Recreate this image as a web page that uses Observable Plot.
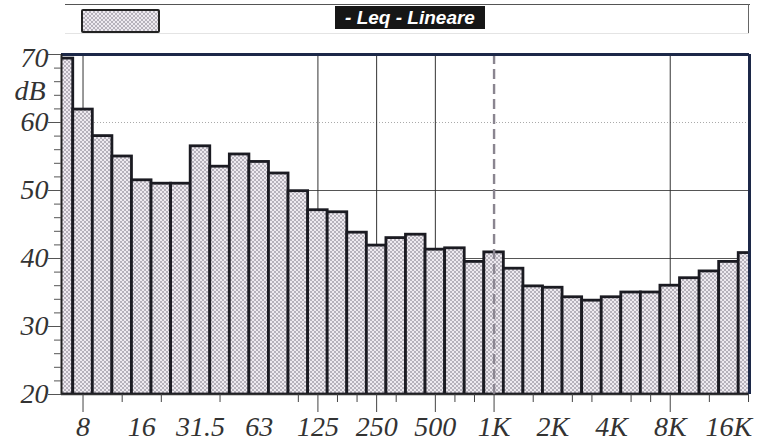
<!DOCTYPE html>
<html>
<head>
<meta charset="utf-8">
<script src="https://cdn.jsdelivr.net/npm/d3@7"></script>
<script src="https://cdn.jsdelivr.net/npm/@observablehq/plot@0.6"></script>
<style>
  html, body { margin: 0; padding: 0; background: #fff; }
  #wrap { position: relative; width: 771px; height: 445px; overflow: hidden; }
  #legend { position: relative; width: 771px; height: 45px; }
  #legend div { position: absolute; box-sizing: border-box; }
  #chart svg { display: block; }
  #chart svg text.lbl { font-style: italic; font-family: 'Liberation Serif', 'DejaVu Serif', serif; }
</style>
</head>
<body>
<div id="wrap">
  <div id="legend">
    <div style="left:65px;top:4px;width:685px;height:0;border-top:1.5px solid #555;"></div>
    <div style="left:748px;top:4px;width:0;height:30px;border-left:1.2px solid #666;"></div>
    <div style="left:65px;top:33px;width:684px;height:0;border-top:1px solid #e4e4e4;"></div>
    <div style="left:81px;top:9px;width:79px;height:24px;border:2px solid #222;border-radius:2px;background:repeating-conic-gradient(#b6b2bb 0 25%, #eeeaf0 0 50%) 0 0/4px 4px;"></div>
    <div id="ttl" style="left:335px;top:6px;width:150px;height:23px;background:#161616;color:#fff;font:italic bold 19px 'Liberation Sans', Arial, sans-serif;line-height:23px;text-align:center;white-space:nowrap;"></div>
  </div>
  <div id="chart"></div>
</div>
<script>
// ---- data ----
const bands = ["6.3","8","10","12.5","16","20","25","31.5","40","50","63","80","100","125","160","200","250","315","400","500","630","800","1K","1.25K","1.6K","2K","2.5K","3.15K","4K","5K","6.3K","8K","10K","12.5K","16K","20K"];
const leq = [69.4,61.9,58.0,55.0,51.5,51.0,51.0,56.5,53.5,55.3,54.2,52.5,49.9,47.1,46.8,43.8,41.9,43.0,43.5,41.3,41.5,39.5,40.9,38.5,35.9,35.7,34.3,33.8,34.3,35.0,35.0,36.0,37.1,38.1,39.5,40.8];
const xLabels = ["8","16","31.5","63","125","250","500","1K","2K","4K","8K","16K"];
const majorTickBands = ["8","125","250","500","1K","8K"];
const minorTickBands = ["12.5","20","40","100","160","200","315","630","800","1.6K","2.5K","3.15K","5K","6.3K","12.5K","20K"];
const gridBands = ["8","125","250","500","8K"];
const dashedBand = ["1K"];
const yLabels = [20,30,40,50,60];
const yTopLabel = [70];
const yUnit = "dB";
const hGrid = [40,50];
const hGridDotted = [60];
const title = "- Leq - Lineare";

document.getElementById("ttl").textContent = title;

const idx = b => bands.indexOf(b);
const data = bands.map((b, i) => ({band: b, i, v: leq[i]}));
const xMin = -0.1, xMax = 35.05;
const serif = "'Liberation Serif', 'DejaVu Serif', serif";
const lblOpts = {textAnchor: "end", lineAnchor: "middle", fontSize: 28, fontStyle: "italic", fontFamily: serif, fill: "#333", className: "lbl"};

const chart = Plot.plot({
  width: 771,
  height: 400,
  marginLeft: 61,
  marginRight: 22,
  marginTop: 9,
  marginBottom: 51,
  style: {background: "white", overflow: "visible"},
  x: {type: "linear", domain: [xMin, xMax], axis: null, label: null},
  y: {domain: [20, 70], axis: null, label: null},
  marks: [
    Plot.ruleY(hGridDotted, {stroke: "#aaa", strokeWidth: 1, strokeDasharray: "1,2"}),
    Plot.ruleY(hGrid, {stroke: "#555", strokeWidth: 1}),
    Plot.ruleX(gridBands, {x: d => idx(d), stroke: "#333", strokeWidth: 1}),
    Plot.rectY(data, {x1: d => d.i - 0.5, x2: d => d.i + 0.5, y1: 20, y2: "v", fill: "url(#chk)", stroke: "#1b1b22", strokeWidth: 2.8, clip: true}),
    Plot.ruleX(dashedBand, {x: d => idx(d), stroke: "#8a8590", strokeWidth: 2.4, strokeDasharray: "10,5"}),
    // frame
    Plot.ruleY([70], {stroke: "#1c2848", strokeWidth: 3}),
    Plot.ruleX([xMax], {stroke: "#1c2848", strokeWidth: 3}),
    Plot.ruleX([xMin], {stroke: "#222", strokeWidth: 2}),
    Plot.ruleY([20], {stroke: "#333", strokeWidth: 1.5}),
    // y ticks
    Plot.axisY(d3.range(20, 71, 10), {tickSize: 13, text: null, stroke: "#555", label: null}),
    Plot.axisY(d3.range(20, 71, 2), {tickSize: 7, text: null, stroke: "#555", label: null}),
    Plot.text(yLabels, {...lblOpts, x: xMin, y: d => d, dx: -13}),
    Plot.text(yTopLabel, {...lblOpts, x: xMin, y: d => d, dx: -13, dy: 4}),
    Plot.text([yUnit], {...lblOpts, x: xMin, y: 64.6, dx: -16}),
    // x ticks
    Plot.axisX(majorTickBands.map(idx), {tickSize: 18, text: null, stroke: "#444", label: null}),
    Plot.axisX(minorTickBands.map(idx), {tickSize: 8, text: null, stroke: "#444", label: null}),
    Plot.text(xLabels, {...lblOpts, textAnchor: "middle", x: d => idx(d), y: 20, dy: 33})
  ]
});

// checker pattern for bar fill
const ns = "http://www.w3.org/2000/svg";
const defs = document.createElementNS(ns, "defs");
const pat = document.createElementNS(ns, "pattern");
pat.setAttribute("id", "chk");
pat.setAttribute("width", 4);
pat.setAttribute("height", 4);
pat.setAttribute("patternUnits", "userSpaceOnUse");
[[0,0,4,4,"#eeeaf0"],[0,0,2,2,"#b6b2bb"],[2,2,2,2,"#b6b2bb"]].forEach(([x,y,w,h,f]) => {
  const r = document.createElementNS(ns, "rect");
  r.setAttribute("x", x); r.setAttribute("y", y);
  r.setAttribute("width", w); r.setAttribute("height", h);
  r.setAttribute("fill", f);
  pat.appendChild(r);
});
defs.appendChild(pat);
chart.insertBefore(defs, chart.firstChild);
chart.querySelectorAll("g.lbl text, text.lbl").forEach(t => { t.style.fontStyle = "italic"; });
chart.querySelectorAll("g.lbl").forEach(g => { g.style.fontStyle = "italic"; });

document.getElementById("chart").appendChild(chart);
</script>
</body>
</html>
